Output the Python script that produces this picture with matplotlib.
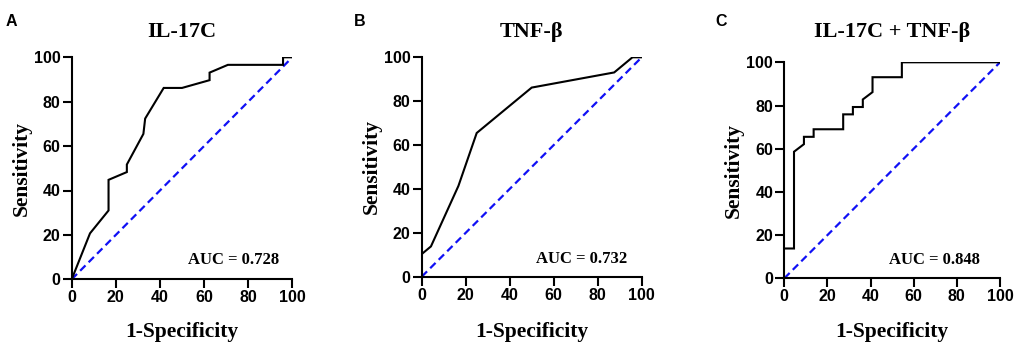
import matplotlib
matplotlib.use("Agg")
import matplotlib.pyplot as plt

# ---- data ----
titles = ["IL-17C", "TNF-\u03b2", "IL-17C + TNF-\u03b2"]
panel_letters = ["A", "B", "C"]
auc_labels = ["AUC = 0.728", "AUC = 0.732", "AUC = 0.848"]

fpr_a = [0, 8.3, 16.7, 16.7, 25.0, 25.0, 32.5, 33.3, 41.7, 50.0, 62.5, 62.5, 70.8, 95.8, 95.8, 100]
tpr_a = [0, 20.7, 31.0, 44.8, 48.3, 51.7, 65.5, 72.4, 86.2, 86.2, 89.7, 93.1, 96.6, 96.6, 100, 100]

fpr_b = [0, 4.2, 16.7, 25.0, 50.0, 87.5, 95.8, 100]
tpr_b = [10.3, 13.8, 41.4, 65.5, 86.2, 93.1, 100, 100]

fpr_c = [0, 4.5, 4.5, 9.1, 9.1, 13.6, 13.6, 27.3, 27.3, 31.8, 31.8, 36.4, 36.4, 40.9, 40.9, 54.5, 54.5, 100]
tpr_c = [13.8, 13.8, 58.6, 62.1, 65.5, 65.5, 69.0, 69.0, 75.9, 75.9, 79.3, 79.3, 82.8, 86.2, 93.1, 93.1, 100, 100]

ref_line = [0, 100]
ticks = [0, 20, 40, 60, 80, 100]

fprs = [fpr_a, fpr_b, fpr_c]
tprs = [tpr_a, tpr_b, tpr_c]

W, H = 1020, 350
fig = plt.figure(figsize=(W / 100, H / 100), dpi=100)

# axes boxes in pixels: left, right, top, bottom
boxes = [(71.7, 292.3, 57.3, 279.3), (421.7, 641.7, 57.3, 276.7), (784.3, 1000.0, 62.3, 278.3)]
letter_pos = [(11.7, 21), (360, 21), (720.7, 21)]
auc_pos = [(94, 8.5), (93.5, 8.2), (90.5, 8.5)]

serif = "Liberation Serif"
sans = "Liberation Sans"

for i in range(3):
    l, r, t, b = boxes[i]
    ax = fig.add_axes([l / W, 1 - b / H, (r - l) / W, (b - t) / H])
    ax.plot(ref_line, ref_line, color="#1010f5", lw=1.6, ls=(0, (3.4, 2.0)), zorder=2)
    ax.plot(fprs[i], tprs[i], color="black", lw=1.5, zorder=3, solid_joinstyle="miter")
    ax.set_xlim(0, 100)
    ax.set_ylim(0, 100)
    ax.set_xticks(ticks)
    ax.set_yticks(ticks)
    for s in ["top", "right"]:
        ax.spines[s].set_visible(False)
    for s in ["left", "bottom"]:
        ax.spines[s].set_linewidth(1.5)
    ax.tick_params(direction="out", length=6.5, width=1.5, pad=1.5)
    for lab in ax.get_xticklabels() + ax.get_yticklabels():
        lab.set_fontfamily(sans)
        lab.set_fontweight("bold")
        lab.set_fontsize(11.5)
    ax.set_xlabel("1-Specificity", fontfamily=serif, fontweight="bold", fontsize=15.5)
    ax.set_ylabel("Sensitivity", fontfamily=serif, fontweight="bold", fontsize=15.5)
    h = b - t
    wdt = r - l
    ax.xaxis.set_label_coords(0.5, (b - 332) / h)
    ax.xaxis.label.set_va("center")
    ax.yaxis.set_label_coords(-50.0 / wdt, 0.5)
    ax.yaxis.label.set_va("center")
    ax.yaxis.label.set_rotation_mode("anchor")
    ax.text(auc_pos[i][0], auc_pos[i][1], auc_labels[i], ha="right", va="center",
            fontfamily=serif, fontweight="bold", fontsize=12)
    fig.text((l + r) / 2 / W, 1 - 32 / H, titles[i], ha="center", va="center",
             fontfamily=serif, fontweight="bold", fontsize=16)
    fig.text(letter_pos[i][0] / W, 1 - letter_pos[i][1] / H, panel_letters[i], ha="center", va="center",
             fontfamily=sans, fontweight="bold", fontsize=11.5)

fig.savefig("out.png", dpi=100, facecolor="white")
